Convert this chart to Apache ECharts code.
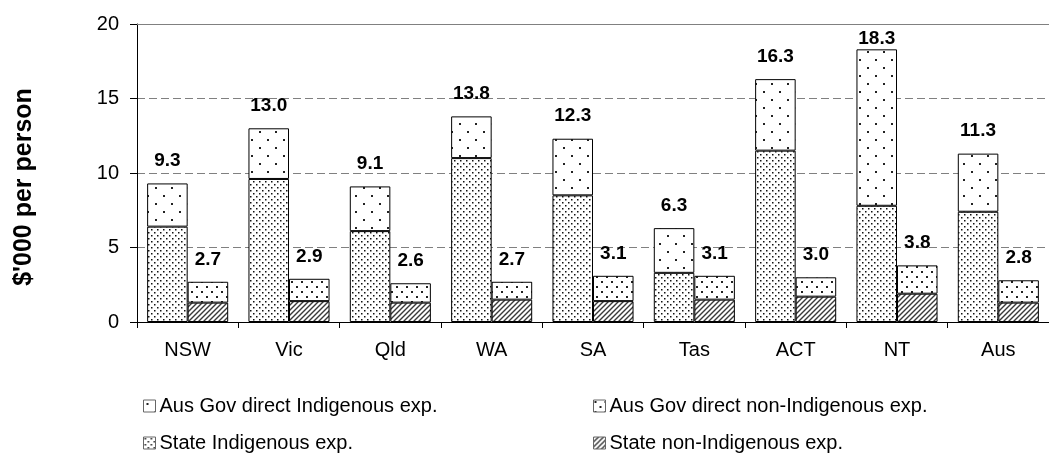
<!DOCTYPE html>
<html>
<head>
<meta charset="utf-8">
<script src="https://cdn.jsdelivr.net/npm/echarts@6/dist/echarts.min.js"></script>
<style>
  html, body { margin: 0; padding: 0; background: #fff; }
  #chart { width: 1049px; height: 461px; }
</style>
</head>
<body>
<div id="chart"></div>
<script>
// ---- data ----
const categories = ['NSW', 'Vic', 'Qld', 'WA', 'SA', 'Tas', 'ACT', 'NT', 'Aus'];
const stateIndigenous = [6.4, 9.6, 6.1, 11.0, 8.5, 3.3, 11.5, 7.8, 7.4];
const ausGovIndigenous = [2.9, 3.4, 3.0, 2.8, 3.8, 3.0, 4.8, 10.5, 3.9];
const stateNonIndigenous = [1.3, 1.4, 1.3, 1.5, 1.4, 1.5, 1.7, 1.9, 1.3];
const ausGovNonIndigenous = [1.4, 1.5, 1.3, 1.2, 1.7, 1.6, 1.3, 1.9, 1.5];
const indigenousTotals = [9.3, 13.0, 9.1, 13.8, 12.3, 6.3, 16.3, 18.3, 11.3];
const nonIndigenousTotals = [2.7, 2.9, 2.6, 2.7, 3.1, 3.1, 3.0, 3.8, 2.8];
const yTickValues = [0, 5, 10, 15, 20];

const seriesNames = {
  agI: 'Aus Gov direct Indigenous exp.',
  agN: 'Aus Gov direct non-Indigenous exp.',
  stI: 'State Indigenous exp.',
  stN: 'State non-Indigenous exp.'
};

// ---- patterns ----
function dotPattern(w, h, dots, color) {
  const c = document.createElement('canvas');
  c.width = w; c.height = h;
  const ctx = c.getContext('2d');
  ctx.fillStyle = '#fff';
  ctx.fillRect(0, 0, w, h);
  ctx.fillStyle = color;
  dots.forEach(d => ctx.fillRect(d[0], d[1], d[2] || 1, d[3] || 1));
  return { image: c, repeat: 'repeat' };
}
function hatchPattern(s) {
  const c = document.createElement('canvas');
  c.width = s; c.height = s;
  const ctx = c.getContext('2d');
  ctx.fillStyle = '#fff';
  ctx.fillRect(0, 0, s, s);
  ctx.strokeStyle = '#3a3a3a';
  ctx.lineWidth = 1.4;
  ctx.beginPath();
  ctx.moveTo(-1, s + 1); ctx.lineTo(s + 1, -1);
  ctx.moveTo(-1, 1); ctx.lineTo(1, -1);
  ctx.moveTo(s - 1, s + 1); ctx.lineTo(s + 1, s - 1);
  ctx.stroke();
  return { image: c, repeat: 'repeat' };
}
const sparseDots = dotPattern(16, 16, [[3, 3, 2, 2], [11, 11, 2, 2]], '#222');
const mediumDots = dotPattern(10, 10, [[1, 1, 2, 2], [6, 6, 2, 2]], '#222');
const denseDots = dotPattern(6, 6, [[1, 1, 1.5, 1.5], [4, 4, 1.5, 1.5]], '#111');
const hatch = hatchPattern(5);

const FONT = 'Liberation Sans, Arial, sans-serif';

function totalLabel(totals) {
  return {
    show: true,
    position: 'top',
    fontFamily: FONT,
    fontSize: 19,
    fontWeight: 'bold',
    color: '#000',
    formatter: p => totals[p.dataIndex].toFixed(1)
  };
}
function withLabels(values, totals) {
  return values.map((v, i) => ({
    value: v,
    label: { distance: totals[i] > 17 ? 1 : 13 }
  }));
}

const borderStyle = { borderColor: '#000', borderWidth: 1 };

const option = {
  animation: false,
  backgroundColor: '#fff',
  grid: { left: 137, top: 24, width: 918, bottom: 139, containLabel: false },
  xAxis: [{
    type: 'category',
    data: categories,
    axisLine: { show: true, lineStyle: { color: '#000', width: 1 } },
    axisTick: { show: true, length: 6, lineStyle: { color: '#000' } },
    axisLabel: { fontFamily: FONT, fontSize: 20, color: '#000', margin: 18 },
    splitLine: { show: false }
  }, {
    type: 'category',
    data: categories,
    position: 'top',
    axisLine: { show: true, lineStyle: { color: '#808080', width: 1 } },
    axisTick: { show: false },
    axisLabel: { show: false }
  }],
  yAxis: {
    type: 'value',
    min: yTickValues[0],
    max: yTickValues[yTickValues.length - 1],
    interval: yTickValues[1] - yTickValues[0],
    name: "$'000 per person",
    nameLocation: 'middle',
    nameRotate: 90,
    nameGap: 100,
    nameTextStyle: { fontFamily: FONT, fontSize: 25, fontWeight: 'bold', color: '#000', padding: [0, 28, 0, 0] },
    axisLine: { show: true, lineStyle: { color: '#000', width: 1 } },
    axisTick: { show: true, length: 7, lineStyle: { color: '#000' } },
    axisLabel: { fontFamily: FONT, fontSize: 20, color: '#000', margin: 18 },
    splitLine: { show: true, lineStyle: { color: '#808080', type: [8, 4], width: 1 } }
  },
  legend: [
    { data: [seriesNames.agI], left: 143, top: 396 },
    { data: [seriesNames.agN], left: 593, top: 396 },
    { data: [seriesNames.stI], left: 143, top: 433 },
    { data: [seriesNames.stN], left: 593, top: 433 }
  ].map(l => Object.assign({
    orient: 'horizontal',
    itemWidth: 12,
    itemHeight: 12,
    icon: 'rect',
    padding: 0,
    itemStyle: { borderColor: '#666', borderWidth: 1 },
    textStyle: { fontFamily: FONT, fontSize: 20, color: '#000', padding: [0, 0, 0, -1] },
    selectedMode: false
  }, l)),
  series: [
    {
      name: seriesNames.stI, type: 'bar', stack: 'indig',
      barGap: '0%', barCategoryGap: '20%',
      itemStyle: Object.assign({ color: denseDots }, borderStyle),
      data: stateIndigenous
    },
    {
      name: seriesNames.agI, type: 'bar', stack: 'indig',
      itemStyle: Object.assign({ color: sparseDots }, borderStyle),
      label: totalLabel(indigenousTotals),
      data: withLabels(ausGovIndigenous, indigenousTotals)
    },
    {
      name: seriesNames.stN, type: 'bar', stack: 'nonindig',
      barGap: '0%', barCategoryGap: '20%',
      itemStyle: Object.assign({ color: hatch }, borderStyle),
      data: stateNonIndigenous
    },
    {
      name: seriesNames.agN, type: 'bar', stack: 'nonindig',
      itemStyle: Object.assign({ color: mediumDots }, borderStyle),
      label: totalLabel(nonIndigenousTotals),
      data: withLabels(ausGovNonIndigenous, nonIndigenousTotals)
    }
  ]
};

const chart = echarts.init(document.getElementById('chart'), null, { renderer: 'canvas' });
chart.setOption(option);
</script>
</body>
</html>
